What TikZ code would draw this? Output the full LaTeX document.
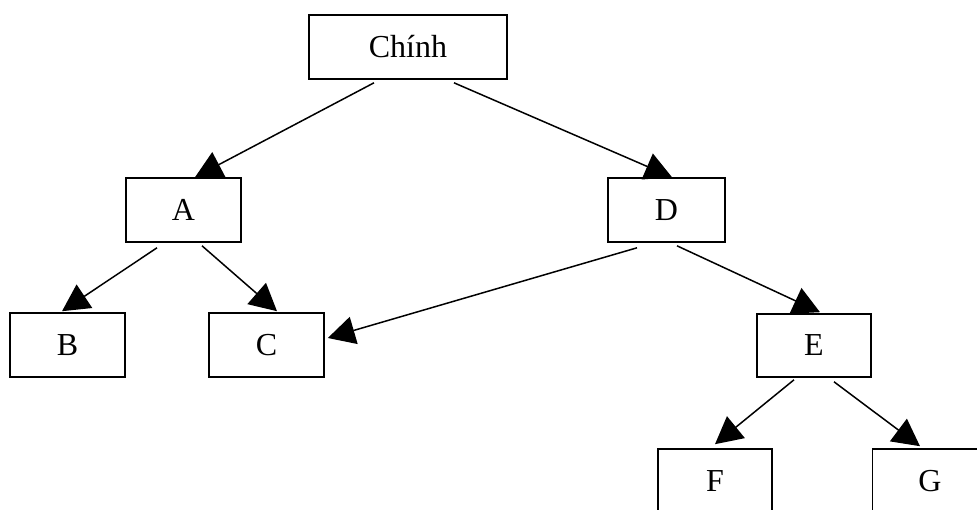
\documentclass[tikz,border=0pt]{standalone}
\usepackage{fontspec}
\setmainfont{Liberation Serif}
\usetikzlibrary{arrows.meta, calc}

\begin{document}
\begin{tikzpicture}[
				x=1pt, y=-1pt,
				box/.style={draw, line width=1.6pt, inner sep=0pt, minimum width=115pt, minimum height=64pt, font=\fontsize{32}{38}\selectfont},
				link/.style={line width=1.5pt, -{Triangle[length=27pt, width=28pt]}},
				]
				
				\useasboundingbox (0,0) rectangle (977,509);
				\clip (0,0) rectangle (977,509);
				
				%% ── Top levels ─────────────────────────────────────────────────────────
				\node[box, minimum width=198pt] (chinh) at (408,47) {Chính};
				\node[box] (a) at (183.5,210) {A};
				\node[box, minimum width=117pt] (d) at (666.5,210) {D};
				
				\draw[link] ($(chinh.south)+(-34,3)$) -- ($(a.north)+(11.5,0)$);
				\draw[link] ($(chinh.south)+(46,3)$) -- ($(d.north)+(5.5,0)$);
				
				%% ── Third level ────────────────────────────────────────────────────────
				\node[box] (b) at (67.5,345) {B};
				\node[box] (c) at (266.5,345) {C};
				\node[box, minimum width=114pt, minimum height=63pt] (e) at (814,345.5) {E};
				
				\draw[link] ($(a.south)+(-26.5,5)$) -- ($(b.north)+(-5.5,-1)$);
				\draw[link] ($(a.south)+(18.5,3)$) -- ($(c.north)+(10.5,-1)$);
				\draw[link] ($(d.south)+(-29.5,5)$) -- ($(c.east)+(3,-7)$);
				\draw[link] ($(d.south)+(10.5,3)$) -- ($(e.north)+(6,-1)$);
				
				%% ── Bottom level (cut off by the frame) ────────────────────────────────
				\node[box, minimum width=114pt] (f) at (715,481) {F};
				\node[box] (g) at (930,481) {G};
				
				\draw[link] ($(e.south)+(-20,2)$) -- ($(f.north)+(0,-4)$);
				\draw[link] ($(e.south)+(20,4)$) -- ($(g.north)+(-10,-2)$);
				
			\end{tikzpicture}
\end{document}
